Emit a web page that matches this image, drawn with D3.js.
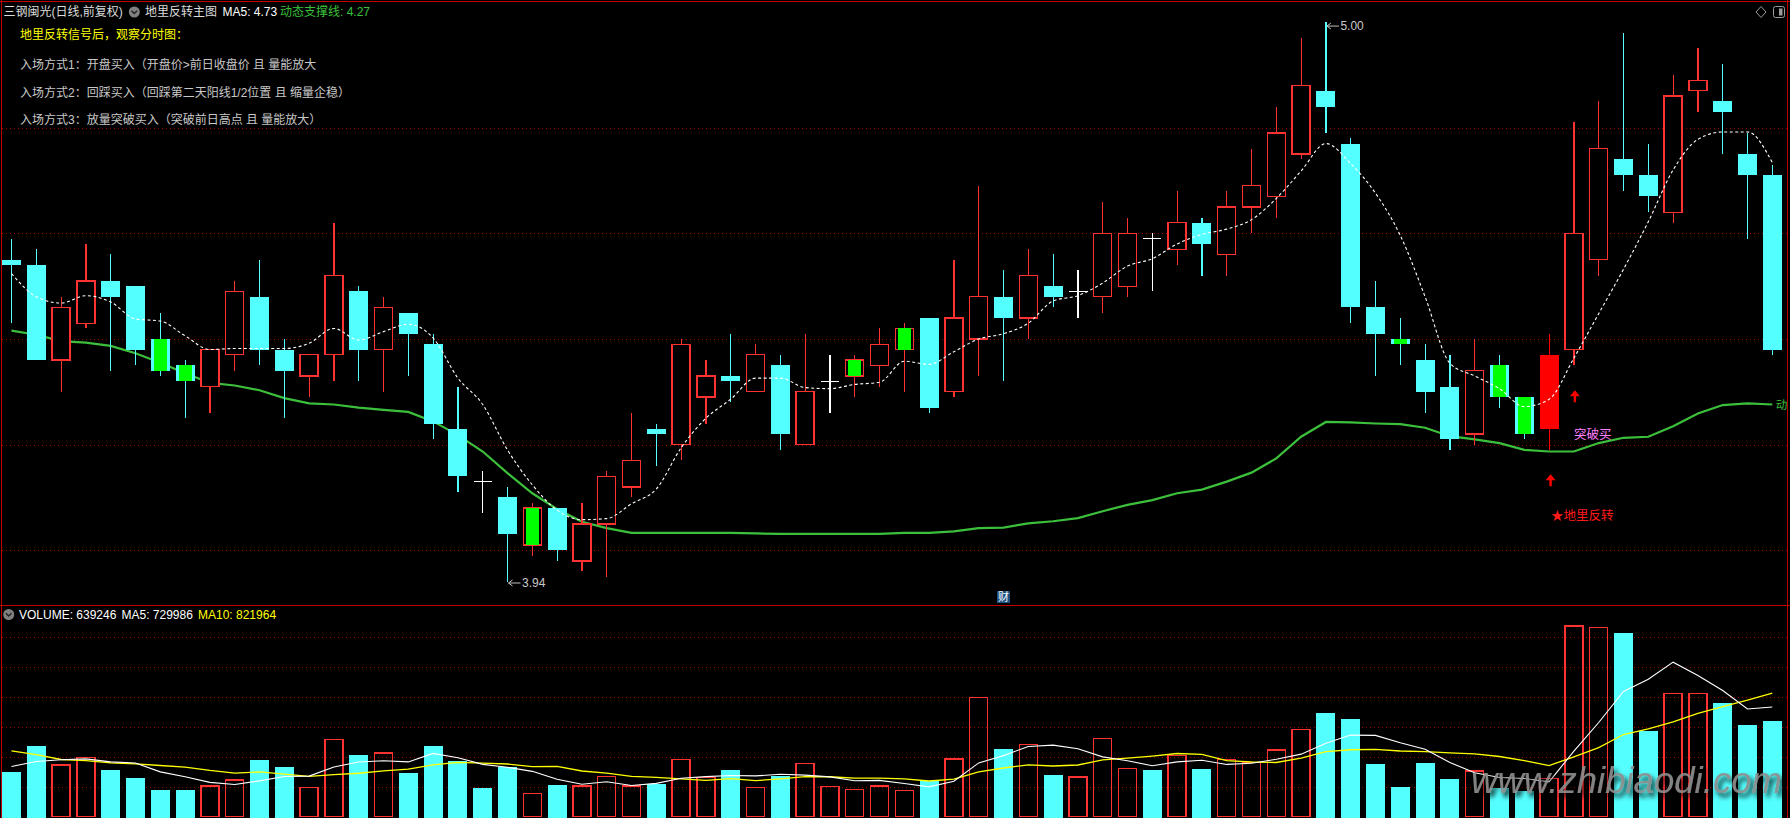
<!DOCTYPE html>
<html><head><meta charset="utf-8">
<script src="https://cdn.jsdelivr.net/npm/d3@7"></script>
<style>
html,body{margin:0;padding:0;background:#000;overflow:hidden}
svg{display:block}
text{font-family:"Liberation Sans","Noto Sans CJK SC",sans-serif}
</style></head><body>
<svg id="c" width="1790" height="818"></svg>
<script>
// ---------- data ----------
const openP  = [4.55,4.54,4.36,4.43,4.51,4.50,4.40,4.35,4.31,4.37,4.48,4.38,4.33,4.37,4.49,4.38,4.45,4.39,4.23,4.13,
                4.10,4.01,4.08,3.98,4.05,4.12,4.23,4.20,4.29,4.33,4.30,4.35,4.20,4.32,4.33,4.35,4.38,4.44,4.30,4.40,
                4.48,4.44,4.50,4.49,4.48,4.50,4.59,4.57,4.62,4.56,4.65,4.67,4.75,4.87,4.77,4.46,4.40,4.36,4.31,4.22,
                4.35,4.29,4.23,4.38,4.55,4.74,4.71,4.64,4.87,4.85,4.75,4.71];
const highP  = [4.59,4.57,4.48,4.58,4.56,4.50,4.45,4.36,4.38,4.51,4.55,4.40,4.37,4.62,4.50,4.48,4.45,4.41,4.31,4.15,
                4.12,4.09,4.08,4.09,4.15,4.26,4.24,4.40,4.36,4.41,4.39,4.37,4.41,4.37,4.37,4.42,4.43,4.44,4.55,4.69,
                4.53,4.57,4.56,4.53,4.66,4.63,4.60,4.68,4.63,4.68,4.76,4.84,4.97,5.00,4.78,4.51,4.44,4.39,4.37,4.40,
                4.37,4.29,4.41,4.81,4.85,4.98,4.77,4.90,4.95,4.92,4.79,4.73];
const lowP   = [4.43,4.36,4.30,4.42,4.34,4.35,4.33,4.25,4.26,4.34,4.35,4.25,4.29,4.32,4.32,4.30,4.33,4.21,4.11,4.07,
                3.94,3.99,3.98,3.96,3.95,4.10,4.16,4.17,4.24,4.28,4.30,4.19,4.20,4.26,4.29,4.31,4.30,4.26,4.29,4.33,
                4.32,4.40,4.46,4.44,4.45,4.48,4.49,4.54,4.52,4.52,4.60,4.63,4.74,4.79,4.43,4.33,4.35,4.26,4.19,4.20,
                4.27,4.21,4.19,4.35,4.52,4.68,4.64,4.62,4.83,4.75,4.59,4.37];
const closeP = [4.54,4.36,4.46,4.51,4.48,4.38,4.34,4.32,4.38,4.49,4.38,4.34,4.37,4.52,4.38,4.46,4.41,4.24,4.14,4.13,
                4.03,4.08,4.00,4.05,4.14,4.17,4.22,4.39,4.33,4.32,4.37,4.22,4.30,4.32,4.36,4.39,4.42,4.27,4.44,4.48,
                4.44,4.52,4.48,4.49,4.60,4.60,4.59,4.62,4.58,4.65,4.69,4.79,4.88,4.84,4.46,4.41,4.39,4.30,4.21,4.34,
                4.29,4.22,4.37,4.60,4.76,4.71,4.67,4.86,4.89,4.83,4.71,4.38];
const volume = [300000,473000,344000,391000,313000,260000,180000,180000,204000,244000,
                380000,327000,191000,511000,407000,424000,287000,473000,367000,187000,
                327000,151000,207000,204000,269000,204000,220000,378000,258000,307000,
                191000,273000,351000,198000,178000,204000,171000,236000,384000,791000,
                447000,478000,280000,264000,518000,318000,313000,407000,320000,378000,
                358000,444000,578000,687000,647000,347000,200000,360000,247000,304000,
                187000,167000,251000,1270000,1258000,1222000,573000,822000,822000,760000,
                607000,639246];
// dynamic support line
const supportLine = [4.416,4.408,4.396,4.393,4.387,4.373,4.355,4.335,4.317,4.312,
                     4.303,4.288,4.278,4.276,4.270,4.266,4.262,4.244,4.218,4.187,
                     4.146,4.108,4.078,4.054,4.042,4.033,4.033,4.033,4.033,4.033,
                     4.032,4.031,4.031,4.031,4.031,4.031,4.033,4.033,4.036,4.042,
                     4.043,4.051,4.055,4.061,4.074,4.086,4.095,4.108,4.115,4.130,
                     4.147,4.174,4.215,4.243,4.242,4.240,4.239,4.232,4.216,4.210,
                     4.203,4.190,4.187,4.187,4.203,4.213,4.215,4.235,4.259,4.275,
                     4.278,4.276];
// moving-average values before a full window exists
const ma5Lead     = [4.524,4.480,4.468,4.482];
const volMa5Lead  = [333000,367000,378000,384000];
const volMa10Lead = [438000,413000,380000,373000,358000,351000,340000,329000,307000];
const greenMarkIdx = [6,7,21,34,36,56,60,61];
const signalIdx = 62;
const breakIdx = 63;
const priceTicks = [4.0,4.2,4.4,4.6,4.8];
const volTicks = [200000,400000,600000,800000,1000000,1200000];
const highLabel = {idx:53, text:"5.00"};
const lowLabel  = {idx:20, text:"3.94"};
const arrowLevels = {signal:4.144, brk:4.303, brkText:4.22, signalText:4.065};
const headerMain = ["三钢闽光(日线,前复权)","地里反转主图","MA5: 4.73","动态支撑线: 4.27"];
const headerVol = ["VOLUME: 639246","MA5: 729986","MA10: 821964"];
const noteLines = ["地里反转信号后，观察分时图：",
  "入场方式1：开盘买入（开盘价>前日收盘价 且 量能放大",
  "入场方式2：回踩买入（回踩第二天阳线1/2位置 且 缩量企稳）",
  "入场方式3：放量突破买入（突破前日高点 且 量能放大）"];
const supportEndLabel = "动";

// ---------- helpers ----------
function rolling(arr, n, lead){
  return arr.map((v,i)=> i < n-1 ? lead[i] : d3.mean(arr.slice(i-n+1,i+1)));
}
const ma5 = rolling(closeP,5,ma5Lead);
const vMa5 = rolling(volume,5,volMa5Lead);
const vMa10 = rolling(volume,10,volMa10Lead);
const N = closeP.length;
const idx = d3.range(N);

const RED="#ff3232", CYAN="#54ffff", GRID="#a00000", BORDER="#c00000";
const W=1790, H=818;

const x = d3.scaleLinear().domain([0,N-1]).range([11.5,1772.3]);
const y = d3.scaleLinear().domain([4.0,4.8]).range([550.3,127.7]);
const yv = d3.scaleLinear().domain([0,1200000]).range([816.5,636.5]);

const svg = d3.select("#c");
svg.append("rect").attr("width",W).attr("height",H).attr("fill","#000");
const defs = svg.append("defs");
defs.append("clipPath").attr("id","clip").append("rect").attr("x",2).attr("y",2).attr("width",1785).attr("height",816);
const f = defs.append("filter").attr("id","sh").attr("x","-10%").attr("y","-30%").attr("width","130%").attr("height","170%");
f.append("feGaussianBlur").attr("in","SourceAlpha").attr("stdDeviation",2.5).attr("result","b");
f.append("feOffset").attr("in","b").attr("dx",3).attr("dy",4).attr("result","o");
const fm=f.append("feMerge"); fm.append("feMergeNode").attr("in","o"); fm.append("feMergeNode").attr("in","SourceGraphic");

// ---------- grid ----------
const gGrid = svg.append("g").attr("transform","translate(2,0)");
gGrid.append("g").call(d3.axisRight(y).tickValues(priceTicks).tickSize(1785).tickFormat(""));
gGrid.append("g").call(d3.axisRight(yv).tickValues(volTicks).tickSize(1785).tickFormat(""));
gGrid.selectAll(".domain").remove();
gGrid.selectAll(".tick line").attr("stroke",GRID).attr("stroke-dasharray","1,3").attr("shape-rendering","crispEdges");

const plot = svg.append("g").attr("clip-path","url(#clip)");

// ---------- support line ----------
plot.append("path").datum(idx)
  .attr("d", d3.line().x(i=>x(i)).y(i=>y(supportLine[i])))
  .attr("fill","none").attr("stroke","#3cc03c").attr("stroke-width",2.2);

// ---------- candles ----------
function kind(i){
  if (closeP[i] > openP[i]) return "up";
  if (closeP[i] < openP[i]) return "down";
  return "flat";
}
const gC = plot.append("g").attr("shape-rendering","crispEdges");
idx.forEach(i=>{
  const k = kind(i), cx = x(i);
  const col = i===signalIdx ? "#ff0000" : (k==="up"?RED:(k==="down"?CYAN:"#ffffff"));
  gC.append("line").attr("x1",cx).attr("x2",cx).attr("y1",y(highP[i])).attr("y2",y(lowP[i]))
    .attr("stroke",col).attr("stroke-width",1.2);
  const top = y(Math.max(openP[i],closeP[i])), bot = y(Math.min(openP[i],closeP[i]));
  if (k==="flat"){
    gC.append("line").attr("x1",cx-9).attr("x2",cx+9).attr("y1",top).attr("y2",top)
      .attr("stroke","#ffffff").attr("stroke-width",1.2);
  } else if (i===signalIdx){
    gC.append("rect").attr("x",cx-9.5).attr("width",19).attr("y",top).attr("height",Math.max(1,bot-top)).attr("fill","#ff0000");
  } else if (k==="up"){
    gC.append("rect").attr("x",cx-9).attr("width",18).attr("y",top).attr("height",Math.max(1,bot-top))
      .attr("fill","#000").attr("stroke",RED).attr("stroke-width",1.3);
  } else {
    gC.append("rect").attr("x",cx-9.5).attr("width",19).attr("y",top).attr("height",Math.max(1.5,bot-top)).attr("fill",CYAN);
  }
  if (greenMarkIdx.includes(i)){
    gC.append("rect").attr("x",cx-6.5).attr("width",13).attr("y",top).attr("height",Math.max(2,bot-top)).attr("fill","#00ff00");
  }
});

plot.append("path").datum(idx)
  .attr("d", d3.line().x(i=>x(i)).y(i=>y(ma5[i])).curve(d3.curveMonotoneX))
  .attr("fill","none").attr("stroke","#ffffff").attr("stroke-width",1.1).attr("stroke-dasharray","3,2.5");

// ---------- high / low labels ----------
function extLabel(i, price, text, dy){
  const cx = x(i), cy = y(price);
  const g = plot.append("g").attr("stroke","#c0c0c0").attr("fill","none").attr("stroke-width",1);
  g.append("path").attr("d",`M${cx+1},${cy+dy} L${cx+13},${cy+dy}`);
  g.append("path").attr("d",`M${cx+5},${cy+dy-3} L${cx+1},${cy+dy} L${cx+5},${cy+dy+3}`);
  plot.append("text").attr("x",cx+14.5).attr("y",cy+dy).attr("dy","0.36em")
    .attr("fill","#c8c8c8").attr("font-size",12).text(text);
}
extLabel(highLabel.idx, highP[highLabel.idx], highLabel.text, 4);
extLabel(lowLabel.idx, lowP[lowLabel.idx], lowLabel.text, 1);

// ---------- signal arrows & texts ----------
function upArrow(cx, tipY){
  plot.append("path").attr("fill","#ff0000")
    .attr("d",`M${cx},${tipY} L${cx+5},${tipY+6} L${cx+1.2},${tipY+6} L${cx+1.2},${tipY+12} L${cx-1.2},${tipY+12} L${cx-1.2},${tipY+6} L${cx-5},${tipY+6} Z`);
}
upArrow(x(signalIdx)+1.5, y(arrowLevels.signal));
upArrow(x(breakIdx)+1, y(arrowLevels.brk));
plot.append("text").attr("x",x(breakIdx)).attr("y",y(arrowLevels.brkText)).attr("dy","0.36em")
  .attr("fill","#ff80ff").attr("font-size",12.5).text("突破买");
plot.append("text").attr("x",x(signalIdx)+2).attr("y",y(arrowLevels.signalText)).attr("dy","0.36em")
  .attr("fill","#ff1a1a").attr("font-size",12.5).text("★地里反转");
svg.append("text").attr("x",x(N-1)+3.5).attr("y",y(supportLine[N-1])).attr("dy","0.36em")
  .attr("fill","#3cc03c").attr("font-size",11.5).text(supportEndLabel);

// ---------- volume ----------
const gV = plot.append("g").attr("shape-rendering","crispEdges");
idx.forEach(i=>{
  const k = kind(i);
  const up = k==="up" || (k==="flat" && closeP[i] >= closeP[i-1]);
  const cx = x(i), top = yv(volume[i]), bot = yv(0);
  if (up) gV.append("rect").attr("x",cx-9).attr("width",18).attr("y",top).attr("height",bot-top)
            .attr("fill","none").attr("stroke",RED).attr("stroke-width",1.3);
  else gV.append("rect").attr("x",cx-9.5).attr("width",19).attr("y",top).attr("height",bot-top+1).attr("fill",CYAN);
});
plot.append("path").datum(idx).attr("d",d3.line().x(i=>x(i)).y(i=>yv(vMa10[i])))
  .attr("fill","none").attr("stroke","#ffff00").attr("stroke-width",1.3);
plot.append("path").datum(idx).attr("d",d3.line().x(i=>x(i)).y(i=>yv(vMa5[i])))
  .attr("fill","none").attr("stroke","#ffffff").attr("stroke-width",1.1);

// ---------- borders ----------
const gB = svg.append("g").attr("stroke",BORDER).attr("stroke-width",1).attr("shape-rendering","crispEdges");
gB.append("line").attr("x1",1.5).attr("x2",1.5).attr("y1",0).attr("y2",H);
gB.append("line").attr("x1",1787.5).attr("x2",1787.5).attr("y1",0).attr("y2",H);
gB.append("line").attr("x1",0).attr("x2",W).attr("y1",1.5).attr("y2",1.5);
gB.append("line").attr("x1",0).attr("x2",W).attr("y1",605.5).attr("y2",605.5);

// ---------- header texts ----------
function icon(cx, cy){
  svg.append("circle").attr("cx",cx).attr("cy",cy).attr("r",5.5).attr("fill","#808080");
  svg.append("path").attr("d",`M${cx-2.8},${cy-1.2} L${cx},${cy+1.6} L${cx+2.8},${cy-1.2}`)
    .attr("fill","none").attr("stroke","#222").attr("stroke-width",1.4);
}
const hdr = svg.append("g").attr("font-size",12);
hdr.append("text").attr("x",3.5).attr("y",12).attr("dy","0.36em").attr("fill","#dcdcdc").text(headerMain[0]);
icon(134.3,12);
hdr.append("text").attr("x",145).attr("y",12).attr("dy","0.36em").attr("fill","#dcdcdc").text(headerMain[1]);
hdr.append("text").attr("x",222.5).attr("y",12).attr("dy","0.36em").attr("fill","#ffffff").text(headerMain[2]);
hdr.append("text").attr("x",280).attr("y",12).attr("dy","0.36em").attr("fill","#3cc03c").text(headerMain[3]);

const noteY = [35,65,92.7,120];
noteLines.forEach((t,k)=>{
  hdr.append("text").attr("x",20).attr("y",noteY[k]).attr("dy","0.36em")
    .attr("fill", k===0 ? "#ffff00" : "#c8c8c8").text(t);
});

icon(8.7,614.5);
hdr.append("text").attr("x",19).attr("y",614.5).attr("dy","0.36em").attr("fill","#ffffff").text(headerVol[0]);
hdr.append("text").attr("x",121.5).attr("y",614.5).attr("dy","0.36em").attr("fill","#ffffff").text(headerVol[1]);
hdr.append("text").attr("x",198).attr("y",614.5).attr("dy","0.36em").attr("fill","#ffff00").text(headerVol[2]);

// "财" badge
svg.append("rect").attr("x",997).attr("y",591).attr("width",13).attr("height",12).attr("fill","#1c4f80");
svg.append("text").attr("x",1003.5).attr("y",597).attr("dy","0.36em").attr("text-anchor","middle")
  .attr("font-size",11).attr("fill","#ffffff").text("财");

// top-right icons
svg.append("path").attr("d","M1761,6.5 L1766,12 L1761,17.5 L1756,12 Z").attr("fill","none").attr("stroke","#9a9a9a");
svg.append("rect").attr("x",1773.5).attr("y",6.5).attr("width",11).attr("height",11).attr("rx",2)
  .attr("fill","none").attr("stroke","#9a9a9a");
svg.append("rect").attr("x",1779).attr("y",8.5).attr("width",3.5).attr("height",7).attr("fill","#9a9a9a");

// watermark
svg.append("text").attr("x",1471).attr("y",793).attr("font-size",36).attr("font-style","italic")
  .attr("textLength",311).attr("lengthAdjust","spacingAndGlyphs")
  .attr("fill","#8e8e8e").attr("fill-opacity",0.9).attr("filter","url(#sh)")
  .text("www.zhibiaodi.com");
</script>
</body></html>
